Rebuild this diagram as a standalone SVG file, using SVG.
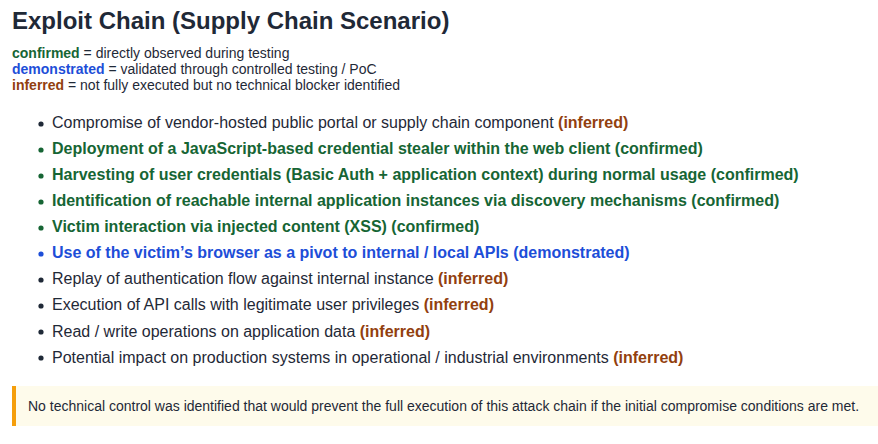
<svg xmlns="http://www.w3.org/2000/svg" width="878" height="444" viewBox="0 0 878 444">
<style>
text{font-family:"Liberation Sans",Arial,sans-serif;fill:#1f2937}
.t{font-size:24px;font-weight:bold}
.l{font-size:14px}
.b{font-size:16px}
.g{fill:#166534;font-weight:bold}
.u{fill:#1d4ed8;font-weight:bold}
.i{fill:#92400e;font-weight:bold}
.n{font-size:14px}
</style>
<rect width="878" height="444" fill="#fff"/>
<text class="t" x="12" y="29">Exploit Chain (Supply Chain Scenario)</text>
<text class="l" x="12" y="58"><tspan class="g">confirmed</tspan> = directly observed during testing</text>
<text class="l" x="12" y="74"><tspan class="u">demonstrated</tspan> = validated through controlled testing / PoC</text>
<text class="l" x="12" y="90"><tspan class="i">inferred</tspan> = not fully executed but no technical blocker identified</text>
<g class="b">
<circle cx="41" cy="124" r="2.6" fill="#1f2937"/><text class="b" x="52" y="128">Compromise of vendor-hosted public portal or supply chain component <tspan class="i">(inferred)</tspan></text>
<circle cx="41" cy="150" r="2.6" fill="#166534"/><text class="b g" x="52" y="154">Deployment of a JavaScript-based credential stealer within the web client (confirmed)</text>
<circle cx="41" cy="176" r="2.6" fill="#166534"/><text class="b g" x="52" y="180">Harvesting of user credentials (Basic Auth + application context) during normal usage (confirmed)</text>
<circle cx="41" cy="202" r="2.6" fill="#166534"/><text class="b g" x="52" y="206">Identification of reachable internal application instances via discovery mechanisms (confirmed)</text>
<circle cx="41" cy="228" r="2.6" fill="#166534"/><text class="b g" x="52" y="232">Victim interaction via injected content (XSS) (confirmed)</text>
<circle cx="41" cy="254" r="2.6" fill="#1d4ed8"/><text class="b u" x="52" y="258">Use of the victim’s browser as a pivot to internal / local APIs (demonstrated)</text>
<circle cx="41" cy="280" r="2.6" fill="#1f2937"/><text class="b" x="52" y="284">Replay of authentication flow against internal instance <tspan class="i">(inferred)</tspan></text>
<circle cx="41" cy="306" r="2.6" fill="#1f2937"/><text class="b" x="52" y="310">Execution of API calls with legitimate user privileges <tspan class="i">(inferred)</tspan></text>
<circle cx="41" cy="332" r="2.6" fill="#1f2937"/><text class="b" x="52" y="337">Read / write operations on application data <tspan class="i">(inferred)</tspan></text>
<circle cx="41" cy="358" r="2.6" fill="#1f2937"/><text class="b" x="52" y="363">Potential impact on production systems in operational / industrial environments <tspan class="i">(inferred)</tspan></text>
</g>
<rect x="12" y="386" width="866" height="40" fill="#fefbeb"/>
<rect x="12" y="386" width="4" height="40" fill="#f59e0b"/>
<text class="n" x="28" y="411">No technical control was identified that would prevent the full execution of this attack chain if the initial compromise conditions are met.</text>
</svg>
